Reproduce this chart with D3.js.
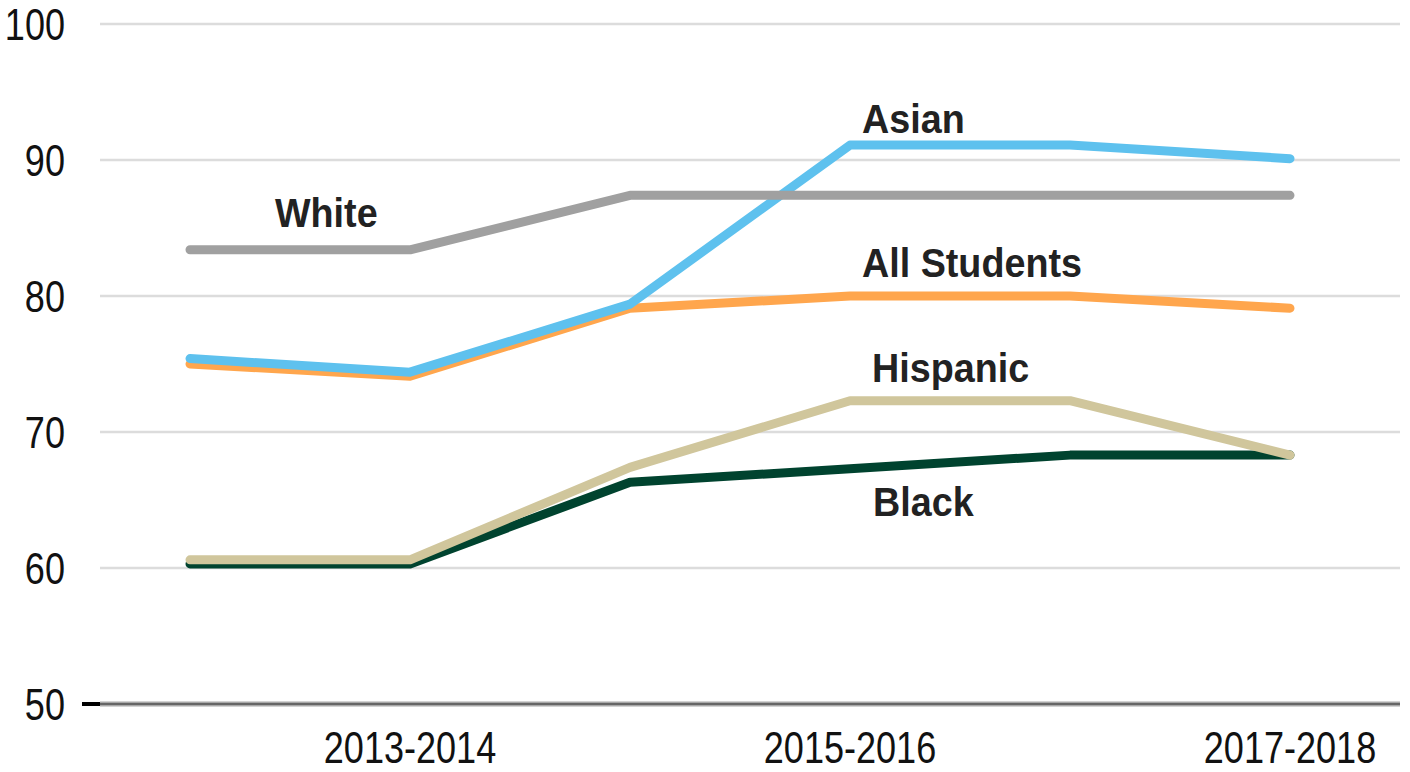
<!DOCTYPE html>
<html><head><meta charset="utf-8">
<script src="https://cdn.jsdelivr.net/npm/d3@7"></script>
<style>body{margin:0;background:#fff}svg{display:block}</style>
</head><body><svg id="c" width="1410" height="772"></svg>
<script>
const categories = ["2012-2013","2013-2014","2014-2015","2015-2016","2016-2017","2017-2018"];
const tickLabels = ["2013-2014","2015-2016","2017-2018"];
const yTicks = [50,60,70,80,90,100];
const white    = [83.4, 83.4, 87.4, 87.4, 87.4, 87.4];
const asian    = [75.4, 74.4, 79.4, 91.1, 91.1, 90.1];
const allStud  = [75.0, 74.1, 79.1, 80.0, 80.0, 79.1];
const hispanic = [60.6, 60.6, 67.4, 72.3, 72.3, 68.3];
const black    = [60.3, 60.3, 66.3, 67.3, 68.3, 68.3];
const seriesNames = ["Black","Hispanic","All Students","Asian","White"];

const series = [
  {name:"Black", values:black, color:"#00432f", lx:873, ly:516},
  {name:"Hispanic", values:hispanic, color:"#d0c69c", lx:872, ly:382},
  {name:"All Students", values:allStud, color:"#ffa64d", lx:862, ly:277},
  {name:"Asian", values:asian, color:"#5ec1ee", lx:862, ly:133},
  {name:"White", values:white, color:"#a0a0a0", lx:275, ly:227}
];

const svg = d3.select("#c");
const x = d3.scaleBand().domain(categories).range([80,1400]);
const y = d3.scaleLinear().domain([50,100]).range([704,24]);
const cx = c => x(c) + x.bandwidth()/2;
const NARROW = 0.82;

// gridlines
svg.append("g").selectAll("line").data(yTicks.filter(t=>t>50)).join("line")
  .attr("x1",100).attr("x2",1400).attr("y1",d=>y(d)).attr("y2",d=>y(d))
  .attr("stroke","#dcdcdc").attr("stroke-width",2.5);

// y labels
svg.append("g").selectAll("text").data(yTicks).join("text")
  .attr("transform",d=>`translate(65,${y(d)}) scale(${NARROW},1)`)
  .attr("dy","0.36em").attr("text-anchor","end")
  .attr("font-family","'Liberation Sans',Arial,sans-serif")
  .attr("font-size",44).attr("fill","#111").text(d=>d);

// x axis line
svg.append("line").attr("x1",100).attr("x2",1400).attr("y1",y(50)).attr("y2",y(50))
  .attr("stroke","#a8a8a8").attr("stroke-width",5);
svg.append("line").attr("x1",100).attr("x2",1400).attr("y1",y(50)).attr("y2",y(50))
  .attr("stroke","#666").attr("stroke-width",2);
svg.append("line").attr("x1",82).attr("x2",100).attr("y1",y(50)).attr("y2",y(50))
  .attr("stroke","#000").attr("stroke-width",4);

// x labels
svg.append("g").selectAll("text").data(tickLabels).join("text")
  .attr("transform",d=>`translate(${cx(d)},763) scale(${NARROW},1)`)
  .attr("text-anchor","middle")
  .attr("font-family","'Liberation Sans',Arial,sans-serif")
  .attr("font-size",44).attr("fill","#111").text(d=>d);

// lines
const line = d3.line().x((d,i)=>cx(categories[i])).y(d=>y(d));
svg.append("g").selectAll("path").data(series).join("path")
  .attr("d",d=>line(d.values)).attr("fill","none").attr("stroke",d=>d.color)
  .attr("stroke-width",9).attr("stroke-linecap","round").attr("stroke-linejoin","round");

// labels
svg.append("g").selectAll("text").data(series).join("text")
  .attr("transform",d=>`translate(${d.lx},${d.ly}) scale(0.92,1)`)
  .attr("font-family","'Liberation Sans',Arial,sans-serif").attr("font-weight","bold")
  .attr("font-size",41).attr("fill","#222").text(d=>d.name);
</script></body></html>
